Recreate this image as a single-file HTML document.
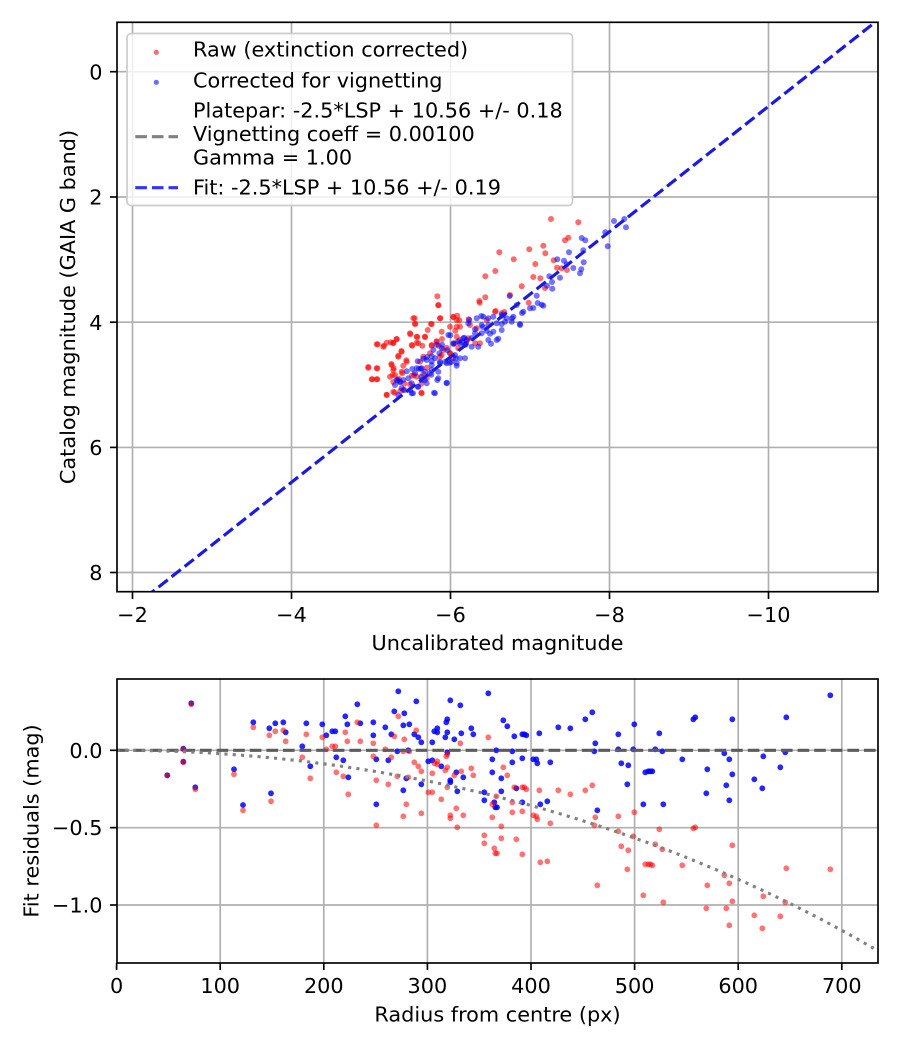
<!DOCTYPE html>
<html><head><meta charset="utf-8">
<style>
body{margin:0;background:#fff}
svg{display:block}
text{font-family:"DejaVu Sans","Liberation Sans",sans-serif;font-size:20.8px;fill:#000}
</style></head>
<body>
<svg id="s" width="900" height="1050" viewBox="0 0 900 1050" xmlns="http://www.w3.org/2000/svg">
<defs>
<clipPath id="c1"><rect x="117" y="22.3" width="761" height="569.4"/></clipPath>
<clipPath id="c2"><rect x="117" y="679" width="761" height="284"/></clipPath>
</defs>
<rect width="900" height="1050" fill="#fff"/>

<!-- TOP grid -->
<g stroke="#b0b0b0" stroke-width="1.67">
<line x1="132.5" y1="22.3" x2="132.5" y2="591.7"/>
<line x1="291.5" y1="22.3" x2="291.5" y2="591.7"/>
<line x1="450.5" y1="22.3" x2="450.5" y2="591.7"/>
<line x1="609.5" y1="22.3" x2="609.5" y2="591.7"/>
<line x1="768.5" y1="22.3" x2="768.5" y2="591.7"/>
<line x1="117" y1="71.7" x2="878" y2="71.7"/>
<line x1="117" y1="197" x2="878" y2="197"/>
<line x1="117" y1="322.2" x2="878" y2="322.2"/>
<line x1="117" y1="447.4" x2="878" y2="447.4"/>
<line x1="117" y1="572.5" x2="878" y2="572.5"/>
</g>
<g id="topRed" clip-path="url(#c1)" fill="#ff0000" fill-opacity="0.58"></g>
<g id="topBlue" clip-path="url(#c1)" fill="#0000ff" fill-opacity="0.55"></g>
<g clip-path="url(#c1)" fill="none" stroke-width="3.1">
<line x1="132.5" y1="607.6" x2="887" y2="12.9" stroke="#808080" stroke-dasharray="11.6 5"/>
<line x1="132.5" y1="607.6" x2="887" y2="12.9" stroke="#0000ff" stroke-opacity="0.8" stroke-dasharray="11.6 5"/>
</g>

<!-- legend -->
<rect x="127" y="33.5" width="445.5" height="172" rx="4" ry="4" fill="#fff" fill-opacity="0.8" stroke="#cccccc" stroke-width="1.67"/>
<circle cx="156.3" cy="52.3" r="2.6" fill="#ff0000" fill-opacity="0.58"/>
<circle cx="156.3" cy="82.3" r="2.6" fill="#0000ff" fill-opacity="0.58"/>
<line x1="135.3" y1="136.7" x2="178" y2="136.7" stroke="#808080" stroke-width="3.1" stroke-dasharray="11.6 5"/>
<line x1="135.3" y1="187.7" x2="178" y2="187.7" stroke="#0000ff" stroke-opacity="0.8" stroke-width="3.1" stroke-dasharray="11.6 5"/>
<text x="193" y="56.7">Raw (extinction corrected)</text>
<text x="193" y="87.3">Corrected for vignetting</text>
<text x="193" y="117.7">Platepar: -2.5*LSP + 10.56 +/- 0.18</text>
<text x="193" y="141">Vignetting coeff = 0.00100</text>
<text x="193" y="164.3">Gamma = 1.00</text>
<text x="193" y="194.7">Fit: -2.5*LSP + 10.56 +/- 0.19</text>

<!-- top spines & ticks -->
<rect x="117" y="22.3" width="761" height="569.4" fill="none" stroke="#000" stroke-width="1.67"/>
<g stroke="#000" stroke-width="1.67">
<line x1="132.5" y1="591.7" x2="132.5" y2="599"/>
<line x1="291.5" y1="591.7" x2="291.5" y2="599"/>
<line x1="450.5" y1="591.7" x2="450.5" y2="599"/>
<line x1="609.5" y1="591.7" x2="609.5" y2="599"/>
<line x1="768.5" y1="591.7" x2="768.5" y2="599"/>
<line x1="110" y1="71.7" x2="117" y2="71.7"/>
<line x1="110" y1="197" x2="117" y2="197"/>
<line x1="110" y1="322.2" x2="117" y2="322.2"/>
<line x1="110" y1="447.4" x2="117" y2="447.4"/>
<line x1="110" y1="572.5" x2="117" y2="572.5"/>
</g>
<g text-anchor="middle">
<text x="132.5" y="622">−2</text>
<text x="291.5" y="622">−4</text>
<text x="450.5" y="622">−6</text>
<text x="609.5" y="622">−8</text>
<text x="768.5" y="622">−10</text>
<text x="497.5" y="650">Uncalibrated magnitude</text>
</g>
<g text-anchor="end">
<text x="102.5" y="79.3">0</text>
<text x="102.5" y="204.6">2</text>
<text x="102.5" y="329.8">4</text>
<text x="102.5" y="455">6</text>
<text x="102.5" y="580.1">8</text>
</g>
<text transform="translate(75,307) rotate(-90)" text-anchor="middle">Catalog magnitude (GAIA G band)</text>

<!-- BOTTOM grid -->
<g stroke="#b0b0b0" stroke-width="1.67">
<line x1="220.2" y1="679" x2="220.2" y2="963"/>
<line x1="323.8" y1="679" x2="323.8" y2="963"/>
<line x1="427.4" y1="679" x2="427.4" y2="963"/>
<line x1="531" y1="679" x2="531" y2="963"/>
<line x1="634.6" y1="679" x2="634.6" y2="963"/>
<line x1="738.2" y1="679" x2="738.2" y2="963"/>
<line x1="841.8" y1="679" x2="841.8" y2="963"/>
<line x1="117" y1="750.3" x2="878" y2="750.3"/>
<line x1="117" y1="827.65" x2="878" y2="827.65"/>
<line x1="117" y1="905" x2="878" y2="905"/>
</g>
<g id="botBlue" clip-path="url(#c2)" fill="#0000ff" fill-opacity="0.85"></g>
<g id="botRed" clip-path="url(#c2)" fill="#ff0000" fill-opacity="0.55"></g>
<g clip-path="url(#c2)" fill="none">
<line x1="117" y1="750.3" x2="878" y2="750.3" stroke="#5c5c5c" stroke-width="3.1" stroke-dasharray="11.6 5"/>
<path id="vig" stroke="#808080" stroke-width="3.1" stroke-dasharray="3.1 5.2"/>
</g>
<rect x="117" y="679" width="761" height="284" fill="none" stroke="#000" stroke-width="1.67"/>
<g stroke="#000" stroke-width="1.67">
<line x1="116.6" y1="963" x2="116.6" y2="970"/>
<line x1="220.2" y1="963" x2="220.2" y2="970"/>
<line x1="323.8" y1="963" x2="323.8" y2="970"/>
<line x1="427.4" y1="963" x2="427.4" y2="970"/>
<line x1="531" y1="963" x2="531" y2="970"/>
<line x1="634.6" y1="963" x2="634.6" y2="970"/>
<line x1="738.2" y1="963" x2="738.2" y2="970"/>
<line x1="841.8" y1="963" x2="841.8" y2="970"/>
<line x1="110" y1="750.3" x2="117" y2="750.3"/>
<line x1="110" y1="827.65" x2="117" y2="827.65"/>
<line x1="110" y1="905" x2="117" y2="905"/>
</g>
<g text-anchor="middle">
<text x="116.6" y="993">0</text>
<text x="220.2" y="993">100</text>
<text x="323.8" y="993">200</text>
<text x="427.4" y="993">300</text>
<text x="531" y="993">400</text>
<text x="634.6" y="993">500</text>
<text x="738.2" y="993">600</text>
<text x="841.8" y="993">700</text>
<text x="497.5" y="1021.6">Radius from centre (px)</text>
</g>
<g text-anchor="end">
<text x="102.5" y="757.9">0.0</text>
<text x="102.5" y="835.2">−0.5</text>
<text x="102.5" y="912.6">−1.0</text>
</g>
<text transform="translate(38.3,821) rotate(-90)" text-anchor="middle">Fit residuals (mag)</text>
</svg>

<script>
(function(){
var NS="http://www.w3.org/2000/svg";
function add(id,pts,ox,oy,r){
  var g=document.getElementById(id);
  for(var i=0;i<pts.length;i++){
    var c=document.createElementNS(NS,"circle");
    c.setAttribute("cx",(ox+pts[i][0]/3).toFixed(1));
    c.setAttribute("cy",(oy+pts[i][1]/3).toFixed(1));
    c.setAttribute("r",r);
    g.appendChild(c);
  }
}
var topRed=[[633,57],[715,67],[685,113],[675,121],[610,137],[568,148],[616,160],[478,157],[521,178],[586,192],[641,181],[651,203],[665,205],[681,210],[466,213],[436,229],[580,231],[601,235],[545,259],[615,264],[510,285],[436,292],[418,303],[419,308],[292,289],[295,316],[467,333],[493,336],[566,308],[224,355],[226,371],[273,372],[301,355],[340,352],[352,347],[358,361],[386,358],[263,390],[350,380],[346,392],[211,403],[232,411],[255,411],[170,417],[152,427],[132,437],[113,433],[160,430],[217,437],[230,428],[247,437],[275,437],[290,424],[296,437],[306,417],[350,410],[345,430],[380,423],[406,430],[420,430],[175,467],[184,453],[199,481],[85,501],[112,505],[97,538],[112,538],[154,492],[190,497],[161,505],[158,525],[187,520],[176,536],[160,546],[193,551],[210,553],[216,527],[250,522],[261,503],[244,551],[222,525],[140,584],[164,578],[244,578],[181,573],[320,443],[330,460],[300,470],[310,450]];
var topBlue=[[822,63],[853,57],[858,82],[803,139],[796,97],[725,114],[736,121],[687,157],[730,151],[731,187],[724,208],[720,220],[700,204],[680,193],[672,182],[652,178],[660,233],[636,246],[637,266],[621,257],[628,229],[590,287],[593,309],[605,314],[610,317],[580,324],[570,325],[546,339],[540,375],[516,355],[509,288],[489,347],[485,372],[475,416],[453,431],[450,401],[440,392],[445,355],[424,348],[428,381],[405,388],[395,414],[388,360],[373,413],[366,427],[378,432],[355,424],[341,432],[331,406],[322,451],[306,434],[290,434],[298,460],[320,548],[292,540],[282,578],[250,476],[237,506],[217,507],[200,514],[261,471],[233,484],[275,469],[275,484],[300,485],[316,485],[254,540],[233,560],[219,580],[244,530],[173,540],[180,547],[210,570],[193,570],[274,524],[243,506],[347,475],[350,497],[329,488]];
var exB=[[500,15],[520,35],[490,50],[470,55],[455,45],[430,50],[400,50],[380,55],[355,70],[395,75],[415,75],[440,70],[465,65],[485,65],[510,72],[375,100],[395,100],[430,95],[455,90],[415,120],[440,120],[350,120],[340,115],[330,130],[345,135],[365,140],[385,140],[310,130],[295,105],[315,165],[330,175],[305,185],[345,175],[275,145],[250,150],[255,175],[230,180],[270,190],[290,190],[245,195],[215,205],[200,205],[195,220],[225,215],[245,210],[265,215],[265,235],[240,220],[215,240],[205,260],[185,250],[175,235],[160,240],[150,245],[140,240],[135,255],[155,265],[185,280],[145,285],[230,250],[255,280],[290,250],[320,190]];
var exR=[[265,15],[190,55],[195,72],[245,72],[270,55],[310,50],[320,60],[300,80],[330,80],[275,95],[180,100],[200,110],[225,110],[205,130],[185,135],[80,133],[100,140],[110,128],[130,128],[140,118],[155,155],[145,170],[170,185],[125,195],[130,210],[55,203],[80,205],[65,238],[80,238],[120,230],[135,225],[155,215],[210,185],[220,170],[245,135],[260,125],[240,160],[275,165],[300,160],[325,145],[330,120],[360,75],[380,85],[410,60],[435,35],[455,40],[110,285],[130,275],[160,270],[215,280],[200,230],[230,235],[310,175],[355,115]];
add("topRed",topRed,340,200,3);
add("topRed",exR,350,300,3);
add("topBlue",topBlue,340,200,3);
add("topBlue",exB,350,300,3);

var blB=[[223,73],[199,209],[199,248],[151,289],[235,325],[351,271],[378,378],[409,130],[457,148],[475,133],[499,130],[506,160],[462,343],[556,202],[580,262],[568,133],[616,136],[628,169],[646,157],[655,157],[658,235],[679,244],[685,112],[691,136],[694,295],[721,76],[730,133],[769,130],[769,169],[778,241],[778,376],[805,145],[814,244],[823,166],[832,97],[841,217],[844,37],[859,139],[862,103],[868,298],[859,334],[877,136],[874,214],[892,166],[898,67],[904,175],[913,190],[913,316],[934,247],[946,244],[946,190],[952,157],[961,148],[961,160],[973,262],[985,175],[988,130],[991,121],[991,160],[991,220],[1000,64],[1000,304],[1000,310],[1012,181],[1018,280],[1021,337],[1030,79],[1033,163],[1039,295],[1063,148],[1069,166],[1102,340],[1102,364],[1114,43],[1126,241],[1126,280],[1132,370],[1135,385],[1138,214]];
var blR=[[223,76],[199,211],[199,250],[151,289],[235,331],[351,286],[378,394],[409,145],[457,169],[475,157],[499,154],[506,187],[462,367],[556,235],[580,298],[568,166],[616,175],[628,211],[646,202],[655,202],[658,280],[679,292],[685,160],[691,187],[694,346],[721,130],[730,187],[769,193],[769,232],[778,304],[778,439],[805,211],[814,316],[823,235],[832,172],[841,292],[844,112],[859,217],[862,181],[868,376],[859,412],[877,217],[874,295],[892,250],[898,154],[904,262],[913,277],[913,403],[934,340],[946,340],[946,283],[952,253],[961,247],[961,256],[973,361],[985,274],[988,232],[991,226],[991,265],[991,325],[1000,409],[1000,418],[1012,289],[1018,388],[1021,445],[1030,193],[1033,277],[1039,409],[1063,268],[1069,289],[1102,469],[1102,493],[1114,175],[1126,415],[1126,376],[1132,508],[1135,523],[1138,352]];
var brB=[[19,124],[31,142],[13,298],[13,337],[0,385],[46,217],[46,250],[52,172],[58,328],[76,166],[82,166],[88,169],[76,238],[76,370],[109,241],[118,241],[121,253],[127,163],[130,376],[151,367],[160,250],[184,145],[220,148],[265,121],[286,100],[295,193],[292,217],[301,394],[364,166],[364,211],[373,253],[394,259],[391,316],[409,211],[412,136],[439,376],[445,280],[454,277],[460,277],[466,277],[475,211],[487,163],[496,217],[499,376],[556,241],[589,121],[595,115],[628,343],[631,271],[682,223],[688,319],[697,241],[697,364],[706,121],[706,286],[772,301],[796,328],[799,232],[850,265],[865,220],[868,115],[1000,49]];
var brR=[[19,265],[31,289],[13,442],[13,478],[0,523],[46,370],[46,400],[52,325],[58,481],[76,325],[82,325],[88,331],[76,397],[76,526],[109,409],[118,412],[121,421],[127,334],[130,550],[151,547],[160,433],[184,334],[220,346],[265,334],[286,319],[295,415],[292,439],[301,619],[364,412],[364,457],[373,502],[394,514],[391,571],[409,472],[412,400],[439,649],[445,556],[454,556],[460,556],[466,559],[475,496],[487,451],[496,511],[499,670],[556,559],[589,448],[595,445],[628,688],[631,619],[682,589],[688,688],[697,613],[697,739],[706,499],[706,667],[772,709],[796,748],[799,652],[850,712],[865,670],[868,568],[1000,571]];
add("botBlue",blB,117,679,2.9);
add("botBlue",brB,497,679,2.9);
add("botRed",blR,117,679,2.9);
add("botRed",brR,497,679,2.9);

var d="";
for(var r=0;r<=740;r+=5){
  var v=10*Math.log(Math.cos(0.001*r))/Math.LN10;
  var x=116.6+r*1.036, y=750.3-v*154.7;
  d+=(r===0?"M":"L")+x.toFixed(1)+" "+y.toFixed(1);
}
document.getElementById("vig").setAttribute("d",d);
})();
</script>
</body></html>
